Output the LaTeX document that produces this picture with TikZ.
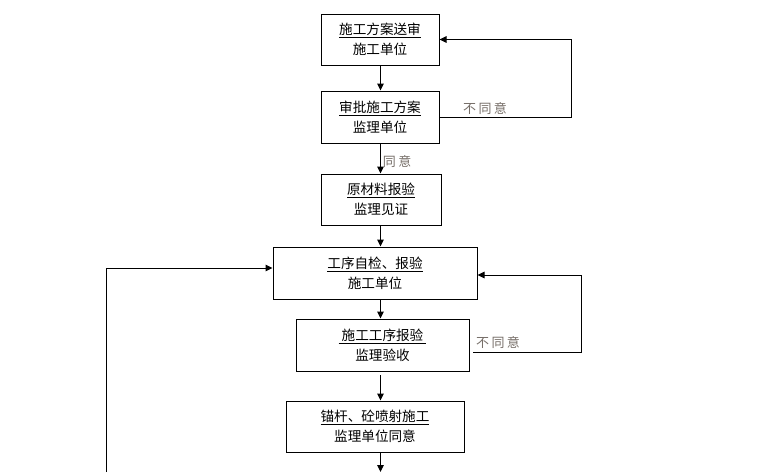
\documentclass[tikz,border=0pt]{standalone}
\usepackage{fontspec}
\setmainfont{Noto Sans CJK SC}
\usetikzlibrary{arrows.meta}
\definecolor{lblgray}{RGB}{118,110,104}
\tikzset{
  box/.style={draw=black, line width=1pt, fill=white, align=center, inner sep=0pt,
    font=\fontsize{13.6pt}{20pt}\selectfont},
  arr/.style={draw=black, line width=1pt, -{Triangle[length=7pt,width=6.5pt]}},
  ln/.style={draw=black, line width=1pt},
  lbl/.style={text=lblgray, inner sep=0pt, font=\fontsize{13pt}{15pt}\selectfont}
}
\newcommand{\lblsp}{\hspace{2.5pt}}
\begin{document}
\begin{tikzpicture}[x=1pt,y=-1pt]
\useasboundingbox (0,0) rectangle (760,472);
\coordinate (axis) at (380.5,0);
\node[box, minimum width=118pt, minimum height=51pt] (b1) at (380,39.5) {\underline{施工方案送审}\\施工单位};
\node[box, minimum width=118pt, minimum height=52pt] (b2) at (380,117) {\underline{审批施工方案}\\监理单位};
\node[box, minimum width=120pt, minimum height=51pt] (b3) at (381,199.5) {\underline{原材料报验}\\监理见证};
\node[box, minimum width=204pt, minimum height=52pt] (b4) at (375,273) {\underline{工序自检、报验}\\施工单位};
\node[box, minimum width=173pt, minimum height=52pt] (b5) at (382.5,345) {\underline{\ 施工工序报验\ }\\监理验收};
\node[box, minimum width=178pt, minimum height=51pt] (b6) at (375,426.5) {\underline{锚杆、砼喷射施工}\\监理单位同意};

\draw[arr] (b1.south -| axis) -- (b2.north -| axis);
\draw[arr] (b2.south -| axis) -- (b3.north -| axis);
\draw[arr] (b3.south -| axis) -- (b4.north -| axis);
\draw[arr] (b4.south -| axis) -- (b5.north -| axis);
\coordinate (a5s) at (380.5,375);
\draw[arr] (a5s) -- (b6.north -| axis);
\coordinate (bot) at (380.5,472);
\draw[arr] (b6.south -| axis) -- (bot);

% top feedback
\coordinate (r1) at (571,0);
\draw[arr] (b2.east) -| (r1 |- b1.east) -- (b1.east);
\node[lbl] (n1) at (485,109) {不\lblsp 同\lblsp 意};

% lower feedback
\coordinate (r2s) at (473,352.5);
\coordinate (r2) at (581,275);
\draw[arr] (r2s) -| (r2) -- (r2 -| b4.east);
\node[lbl] (n2) at (498,342.5) {不\lblsp 同\lblsp 意};

% agree label
\node[lbl] (n3) at (397,161.5) {同\lblsp 意};

% left loop
\coordinate (lb) at (106.5,472);
\coordinate (lt) at (106.5,268);
\draw[arr] (lb) -- (lt) -- (lt -| b4.west);
\end{tikzpicture}
\end{document}
